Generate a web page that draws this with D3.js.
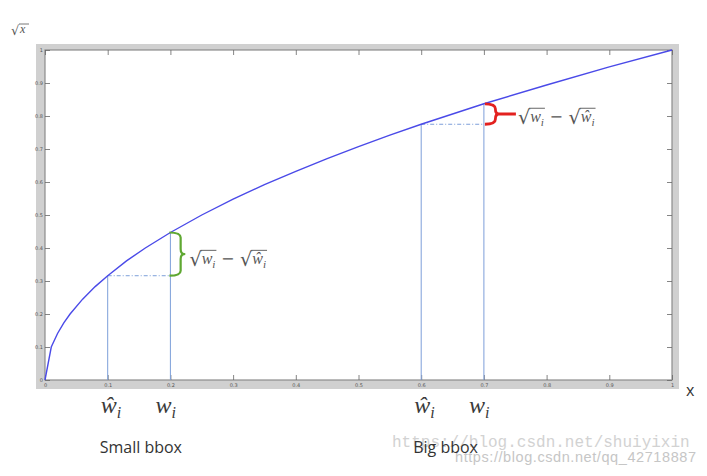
<!DOCTYPE html>
<html>
<head>
<meta charset="utf-8">
<script src="https://cdn.jsdelivr.net/npm/d3@7"></script>
<style>
  body { margin: 0; background: #fff; }
  svg { display: block; }
</style>
</head>
<body>
<div id="chart"></div>
<script>
// sqrt(x) curve, points
var curveX = [0, 0.01, 0.02, 0.03, 0.04, 0.06, 0.08, 0.1, 0.13, 0.16, 0.2, 0.25, 0.3, 0.35, 0.4, 0.45, 0.5, 0.55, 0.6, 0.65, 0.7, 0.8, 0.9, 1];
var curveY = [0, 0.1, 0.141, 0.173, 0.2, 0.245, 0.283, 0.316, 0.361, 0.4, 0.447, 0.5, 0.548, 0.592, 0.632, 0.671, 0.707, 0.742, 0.775, 0.806, 0.837, 0.894, 0.949, 1];

var tickValues = [0, 0.1, 0.2, 0.3, 0.4, 0.5, 0.6, 0.7, 0.8, 0.9, 1];
var tickLabels = ["0", "0.1", "0.2", "0.3", "0.4", "0.5", "0.6", "0.7", "0.8", "0.9", "1"];

// the two boxes: predicted width (w hat), true width (w) and their sqrt values
var bboxNames = ["Small bbox", "Big bbox"];
var wHat = [0.1, 0.6];
var wTrue = [0.2, 0.7];
var sqrtWHat = [0.316, 0.775];
var sqrtWTrue = [0.447, 0.837];
var braceColors = ["#5fa832", "#e3211f"];

var W = 707, H = 476;
var serif = "'Liberation Serif', 'Times New Roman', 'DejaVu Serif', serif";
var svg = d3.select("#chart").append("svg")
  .attr("width", W)
  .attr("height", H);

var x = d3.scaleLinear().domain([0, 1]).range([45, 672]);
var y = d3.scaleLinear().domain([0, 1]).range([380, 50]);

// matlab style grey frame
svg.append("rect")
  .attr("x", 36).attr("y", 44)
  .attr("width", 679 - 36).attr("height", 389 - 44)
  .style("fill", "#d0d0d0");
svg.append("rect")
  .attr("x", x(0)).attr("y", y(1))
  .attr("width", x(1) - x(0)).attr("height", y(0) - y(1))
  .style("fill", "#fff")
  .style("stroke", "#8c8c8c")
  .style("stroke-width", 1.2);

function styleAxis(g) {
  g.select(".domain").remove();
  g.selectAll("line").style("stroke", "#666").style("stroke-width", 0.8);
  g.selectAll("text").style("fill", "#555").style("font-size", "5px")
    .style("font-family", "DejaVu Sans");
}

svg.append("g")
  .attr("transform", "translate(0," + y(0) + ")")
  .call(d3.axisBottom(x).tickValues(tickValues).tickSize(-5).tickSizeOuter(0).tickPadding(3)
    .tickFormat(function(d, i) { return tickLabels[i]; }))
  .call(styleAxis);
svg.append("g")
  .attr("transform", "translate(" + x(0) + ",0)")
  .call(d3.axisLeft(y).tickValues(tickValues).tickSize(-5).tickSizeOuter(0).tickPadding(2)
    .tickFormat(function(d, i) { return tickLabels[i]; }))
  .call(styleAxis);
svg.append("g")
  .attr("transform", "translate(0," + y(1) + ")")
  .call(d3.axisTop(x).tickValues(tickValues).tickSize(-5).tickSizeOuter(0).tickFormat(""))
  .call(styleAxis);
svg.append("g")
  .attr("transform", "translate(" + x(1) + ",0)")
  .call(d3.axisRight(y).tickValues(tickValues).tickSize(-5).tickSizeOuter(0).tickFormat(""))
  .call(styleAxis);

// guide lines for each box
var lineColor = "#7d9fd9";
bboxNames.forEach(function(name, i) {
  svg.append("line")
    .attr("x1", x(wHat[i])).attr("x2", x(wHat[i]))
    .attr("y1", y(0)).attr("y2", y(sqrtWHat[i]))
    .style("stroke", lineColor).style("stroke-width", 1);
  svg.append("line")
    .attr("x1", x(wTrue[i])).attr("x2", x(wTrue[i]))
    .attr("y1", y(0)).attr("y2", y(sqrtWTrue[i]))
    .style("stroke", lineColor).style("stroke-width", 1);
  svg.append("line")
    .attr("x1", x(wHat[i])).attr("x2", x(wTrue[i]))
    .attr("y1", y(sqrtWHat[i])).attr("y2", y(sqrtWHat[i]))
    .style("stroke", lineColor).style("stroke-width", 1)
    .style("stroke-dasharray", "4,2,1,2");
});

// the curve
var line = d3.line()
  .x(function(d) { return x(d[0]); })
  .y(function(d) { return y(d[1]); });
svg.append("path")
  .datum(d3.zip(curveX, curveY))
  .attr("d", line)
  .style("fill", "none")
  .style("stroke", "#4a4ae8")
  .style("stroke-width", 1.4);

// curly brace pointing right
function brace(x0, y1, y2, w, tail, color, sw) {
  var xm = x0 + w * 0.75, ym = (y1 + y2) / 2, r = Math.min(5, (y2 - y1) / 4);
  var d = "M" + x0 + "," + y1 +
    " Q" + xm + "," + y1 + " " + xm + "," + (y1 + r) +
    " L" + xm + "," + (ym - r) +
    " Q" + xm + "," + ym + " " + (x0 + w) + "," + ym +
    " Q" + xm + "," + ym + " " + xm + "," + (ym + r) +
    " L" + xm + "," + (y2 - r) +
    " Q" + xm + "," + y2 + " " + x0 + "," + y2;
  if (tail > 0) d += " M" + (x0 + w) + "," + ym + " L" + (x0 + w + tail) + "," + ym;
  svg.append("path").attr("d", d)
    .style("fill", "none").style("stroke", color)
    .style("stroke-width", sw).style("stroke-linejoin", "round");
}

// writes sqrt(w_i) - sqrt(w_hat_i), piece by piece
function sqrtDiff(x0, base, size, color) {
  var cx = x0;
  function piece(txt, sz, italic, dy, fam) {
    var t = svg.append("text").text(txt)
      .attr("x", cx).attr("y", base + dy)
      .style("font-size", sz + "px")
      .style("font-family", fam || serif)
      .style("font-style", italic ? "italic" : "normal")
      .style("fill", color);
    var w = t.node().getComputedTextLength();
    cx += w;
    return w;
  }
  function root(main) {
    piece("\u221A", size * 1.2, false, 2, "DejaVu Serif");
    var sx = cx;
    piece(main, size, true, 0);
    piece("i", size * 0.7, true, size * 0.22);
    svg.append("line")
      .attr("x1", sx - 1).attr("x2", cx + 1)
      .attr("y1", base - size * 0.86).attr("y2", base - size * 0.86)
      .style("stroke", color).style("stroke-width", 0.9);
  }
  root("w");
  cx += size * 0.35;
  piece("\u2212", size, false, 0, "DejaVu Serif");
  cx += size * 0.35;
  root("\u0175");
}

var labelColor = "#3a3a3a";
var bboxFont = "Open Sans";

// watermarks (drawn under the labels)
svg.append("text").text("https://blog.csdn.net/shuiyixin")
  .attr("x", 392).attr("y", 447)
  .style("font-family", "Liberation Mono").style("font-size", "16px")
  .style("fill", "#d2d2d2");
svg.append("text").text("https://blog.csdn.net/qq_42718887")
  .attr("x", 455).attr("y", 462)
  .attr("textLength", 241)
  .style("font-family", "Liberation Sans").style("font-size", "14.5px")
  .style("fill", "#c6c6c6");

bboxNames.forEach(function(name, i) {
  var y1 = y(sqrtWTrue[i]), y2 = y(sqrtWHat[i]);
  if (i == 0) {
    brace(x(wTrue[i]) - 1, y1, y2, 15, 0, braceColors[i], 2.2);
    sqrtDiff(x(wTrue[i]) + 19, (y1 + y2) / 2 + 10, 16, "#555");
  } else {
    brace(x(wTrue[i]) + 1, y1, y2, 14, 17, braceColors[i], 2.8);
    sqrtDiff(x(wTrue[i]) + 34, (y1 + y2) / 2 + 8, 16, "#555");
  }

  // w hat / w labels under the axis
  var lh = svg.append("text").attr("x", x(wHat[i]) - 7).attr("y", 413)
    .style("font-family", serif).style("font-style", "italic")
    .style("font-size", "24px").style("fill", labelColor);
  lh.append("tspan").text("\u0175");
  lh.append("tspan").text("i").attr("dy", 5).style("font-size", "16px");
  var lw = svg.append("text").attr("x", x(wTrue[i]) - 15).attr("y", 413)
    .style("font-family", serif).style("font-style", "italic")
    .style("font-size", "24px").style("fill", labelColor);
  lw.append("tspan").text("w");
  lw.append("tspan").text("i").attr("dy", 5).style("font-size", "16px");

  svg.append("text").text(name)
    .attr("x", x(wHat[i]) - 8).attr("y", 453)
    .style("font-family", bboxFont).style("font-size", "16px")
    .style("fill", "#333");
});

// axis names
svg.append("text").text("x")
  .attr("x", 686).attr("y", 396)
  .style("font-family", bboxFont).style("font-size", "16px").style("fill", "#333");

var sq = svg.append("g");
sq.append("text").text("\u221A")
  .attr("x", 11).attr("y", 35)
  .style("font-family", "DejaVu Serif").style("font-size", "13px").style("fill", "#555");
sq.append("text").text("x")
  .attr("x", 20).attr("y", 33)
  .style("font-family", serif).style("font-style", "italic")
  .style("font-size", "12px").style("fill", "#555");
sq.append("line")
  .attr("x1", 19).attr("x2", 29).attr("y1", 24).attr("y2", 24)
  .style("stroke", "#555").style("stroke-width", 0.8);
</script>
</body>
</html>
